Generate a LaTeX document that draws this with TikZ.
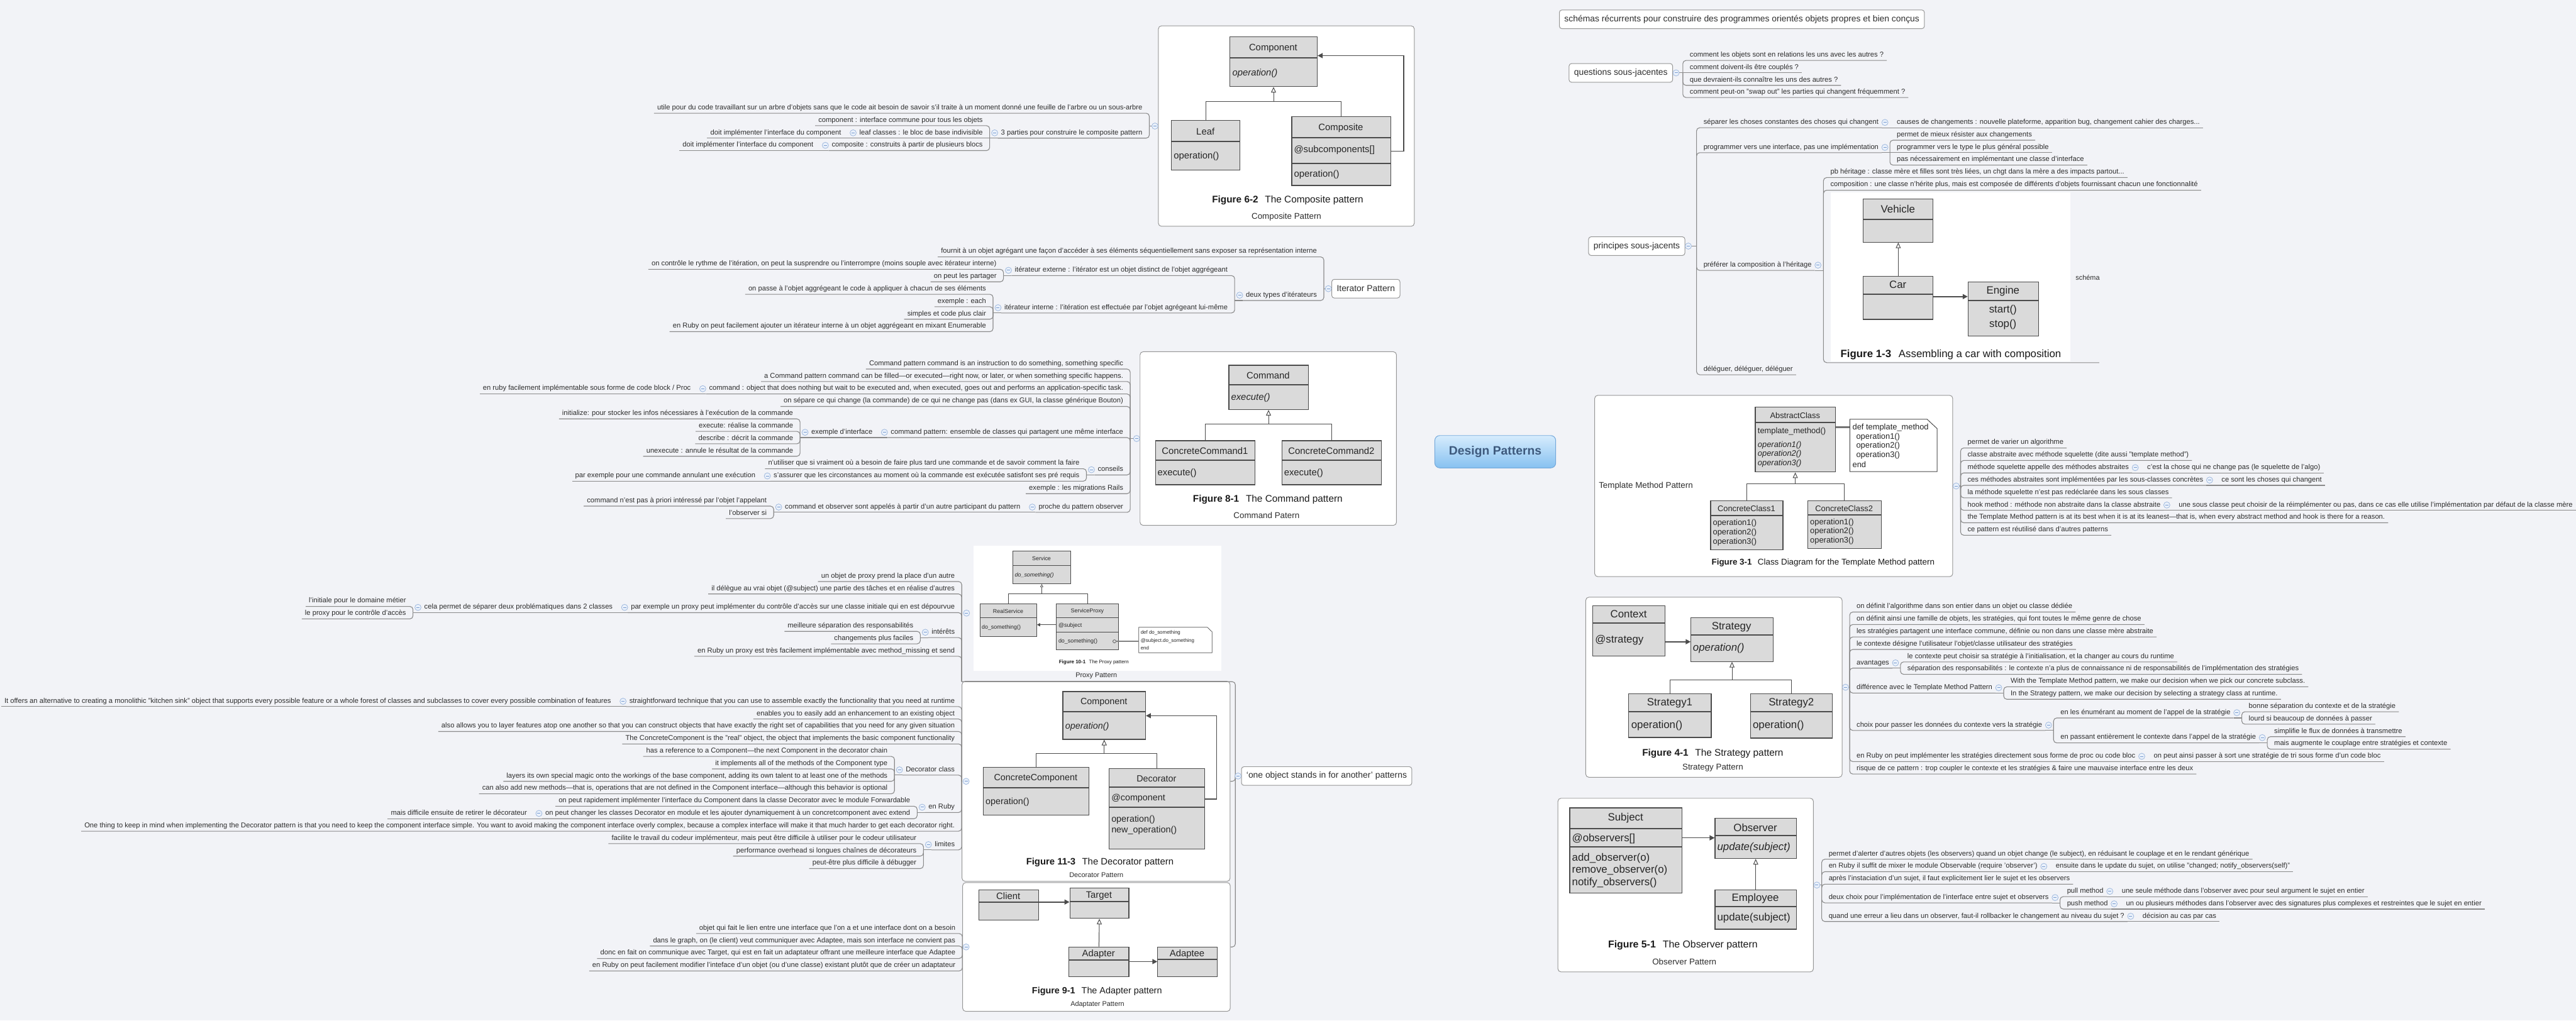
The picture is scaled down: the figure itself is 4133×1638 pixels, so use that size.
\documentclass[tikz,border=0pt]{standalone}
\usepackage{fontspec}
\setmainfont{Liberation Sans}
\usetikzlibrary{calc,arrows.meta}
\pgfdeclarelayer{back}
\pgfsetlayers{back,main}
\definecolor{bgc}{RGB}{242,243,247}
\definecolor{ln}{RGB}{138,138,138}
\definecolor{tx}{RGB}{45,45,45}
\definecolor{frm}{RGB}{150,150,150}
\definecolor{umlf}{RGB}{218,218,218}
\definecolor{umld}{RGB}{75,75,75}
\definecolor{foldb}{RGB}{160,185,222}
\definecolor{foldf}{RGB}{234,241,251}
\definecolor{foldm}{RGB}{120,155,208}
\definecolor{dpt}{RGB}{62,90,125}
\definecolor{dptop}{RGB}{214,236,253}
\definecolor{dpbot}{RGB}{135,193,240}
\definecolor{dpb}{RGB}{115,168,218}
\newcommand\fs[1]{\fontsize{#1}{#1}\selectfont}
\newcommand\UT[3]{\node[umlt] at (#1,#2) {#3};}
\newcommand\UL[3]{\node[umlt,anchor=west] at (#1,#2) {#3};}
\newcommand\stem[2]{\draw[conn] (#1) -- (#1 -| #2);}
\newcommand\kR[2]{\draw[conn] (#1 -| #2.south west) [rounded corners=5pt] |- (#2.south east);}
\newcommand\kL[2]{\draw[conn] (#1 -| #2.south east) [rounded corners=5pt] |- (#2.south west);}
\newcommand\kRs[2]{\draw[conn] (#1 -| #2.south west) -- (#2.south east);}
\newcommand\kLs[2]{\draw[conn] (#1 -| #2.south east) -- (#2.south west);}
\newcommand\sR[2]{\draw[conn] (#1.south east) -- (#2.south east);}
\newcommand\sL[2]{\draw[conn] (#1.south west) -- (#2.south west);}
\newcommand\fR[1]{\node[fold] at ($(#1.east)+(5,0)$) {};}
\newcommand\fL[1]{\node[fold] at ($(#1.west)+(-5,0)$) {};}
\tikzset{
 conn/.style={draw=ln, line width=1.1pt},
 mainl/.style={draw=ln, line width=1pt},
 leaf/.style={font=\fs{11.3}, text=tx, inner xsep=5pt, inner ysep=3pt, text height=8pt, text depth=2.5pt},
 leafR/.style={leaf, anchor=south west, execute at begin node={\hspace*{6pt}}},
 leafL/.style={leaf, anchor=south east, execute at end node={\hspace*{6pt}}},
 topic/.style={draw=frm, fill=white, rounded corners=4pt, font=\fs{14}, text=tx, inner xsep=8pt, minimum height=30pt, line width=1pt},
 pframe/.style={draw=frm, fill=white, rounded corners=5pt, line width=1pt, inner sep=0pt, anchor=north west},
 fold/.style={circle, draw=foldb, fill=foldf, line width=0.8pt, minimum size=10pt, inner sep=0pt, path picture={\draw[foldm, line width=1pt] ([xshift=-2.5pt]path picture bounding box.center) -- ([xshift=2.5pt]path picture bounding box.center);}},
 umlb/.style={draw=umld, fill=umlf, line width=1.2pt, inner sep=0pt, anchor=north west},
 umldiv/.style={draw=umld, line width=2pt},
 umlt/.style={text=black!85, inner sep=0pt},
 uline/.style={draw=umld, line width=1pt},
 inh/.style={draw=umld, line width=1pt, -{Triangle[open, length=9pt, width=8pt]}},
 asc/.style={draw=umld, line width=1.6pt, -{Triangle[length=8pt, width=8pt]}},
 figcap/.style={text=black!90, inner sep=0pt},
 flab/.style={font=\fs{13.5}, text=tx, inner sep=0pt},
 slab/.style={font=\fs{11}, text=tx, inner sep=0pt},
 notebox/.style={draw=umld, fill=white, line width=1pt},
}
\begin{document}
\begin{tikzpicture}[x=1pt,y=-1pt]
\fill[bgc] (0,0) rectangle (4133,1638);
\useasboundingbox (0,0) rectangle (4133,1638);

% ================= central
\node[draw=dpb, line width=1pt, rounded corners=8pt, top color=dptop, bottom color=dpbot, minimum width=194pt, minimum height=52pt, font=\bfseries\fs{19.5}, text=dpt] (dp) at (2399,725) {Design Patterns};

% ================= RIGHT: schemas / questions
\node[topic] (sch) at (2794.7,31) {schémas récurrents pour construire des programmes orientés objets propres et bien conçus};
\node[topic] (q) at (2600.5,117) {questions sous-jacentes};
\node[leafR] (q1) at (2700,97) {comment les objets sont en relations les uns avec les autres ?};
\node[leafR] (q2) at (2700,117) {comment doivent-ils être couplés ?};
\node[leafR] (q3) at (2700,137) {que devraient-ils connaître les uns des autres ?};
\node[leafR] (q4) at (2700,156.5) {comment peut-on "swap out" les parties qui changent fréquemment ?};
\stem{q.east}{q1.south west}
\kR{q.east}{q1}\kRs{q.east}{q2}\kR{q.east}{q3}\kR{q.east}{q4}
\fR{q}

% ================= principes
\node[topic] (pr) at (2626,395) {principes sous-jacents};
\node[leafR] (p1) at (2722,205) {séparer les choses constantes des choses qui changent};
\node[leafR] (p1a) at ($(p1.south east)+(13,0)$) {causes de changements : nouvelle plateforme, apparition bug, changement cahier des charges...};
\node[leafR] (p2) at (2722,245) {programmer vers une interface, pas une implémentation};
\node[leafR] (p2a) at ($(p2.south east)+(13,-20)$) {permet de mieux résister aux changements};
\node[leafR] (p2b) at ($(p2.south east)+(13,0)$) {programmer vers le type le plus général possible};
\node[leafR] (p2c) at ($(p2.south east)+(13,20)$) {pas nécessairement en implémentant une classe d'interface};
\node[leafR] (p3) at (2722,434) {préférer la composition à l'héritage};
\node[leafR] (p3a) at (2925.6,285) {pb héritage : classe mère et filles sont très liées, un chgt dans la mère a des impacts partout...};
\node[leafR] (p3b) at (2925.6,305.3) {composition : une classe n'hérite plus, mais est composée de différents d'objets fournissant chacun une fonctionnalité};
\node[leafR] (p4) at (2722,601.5) {déléguer, déléguer, déléguer};
\coordinate (schL) at (2925.6,582);
\coordinate (schR) at (3368,582);
\stem{pr.east}{p1.south west}
\kR{pr.east}{p1}\kR{pr.east}{p2}\kR{pr.east}{p3}\kR{pr.east}{p4}
\sR{p1}{p1a}
\stem{p2.south east}{p2a.south west}
\kR{p2.south east}{p2a}\kRs{p2.south east}{p2b}\kR{p2.south east}{p2c}
\stem{p3.south east}{p3a.south west}
\kR{p3.south east}{p3a}\kR{p3.south east}{p3b}
\draw[conn] (p3.south east -| schL) [rounded corners=5pt] |- (schR);
\fR{pr}\fR{p1}\fR{p2}\fR{p3}
% image car
\fill[white] (2937,309) rectangle (3322,580);
\begin{scope}[umlt/.append style={font=\fs{17}}]
\node[umlb, minimum width=112pt, minimum height=69pt] (vV) at (2989,319) {};
\draw[umldiv] (2989,352) -- (3101,352);
\UT{3045}{335.5}{Vehicle}
\node[umlb, minimum width=112pt, minimum height=69pt] (vC) at (2989,443) {};
\draw[umldiv] (2989,472) -- (3101,472);
\UT{3045}{457}{Car}
\node[umlb, minimum width=113pt, minimum height=87pt] (vE) at (3157,452) {};
\draw[umldiv] (3157,482) -- (3270,482);
\UT{3213.5}{467}{Engine}
\UT{3213.5}{498}{start()}
\UT{3213.5}{521}{stop()}
\draw[inh] (vC.north) -- (vV.south);
\draw[asc] (vC.east |- 0,476) -- (vE.west |- 0,476);
\end{scope}
\node[figcap, font=\fs{17}] at (3130,569) {\textbf{Figure 1-3}\hspace{0.7em}Assembling a car with composition};
\node[slab, anchor=west] at (3330,446) {schéma};

% ================= Template
\node[pframe, minimum width=574.5pt, minimum height=291pt] (tm) at (2558,634) {};
\node[flab, anchor=west] at (2565,780) {Template Method Pattern};
\begin{scope}[umlt/.append style={font=\fs{13}}]
\node[umlb, minimum width=128.5pt, minimum height=104pt] (tmA) at (2815.5,653) {};
\draw[umldiv] (2815.5,678) -- (2944,678);
\UT{2880}{667}{AbstractClass}
\UL{2820}{692}{template\_method()}
\UL{2820}{715}{\itshape operation1()}
\UL{2820}{729}{\itshape operation2()}
\UL{2820}{744}{\itshape operation3()}
\draw[notebox] (2968,673) -- (3092,673) -- (3108,688) -- (3108,757) -- (2968,757) -- cycle;
\draw[draw=black!55, line width=3pt] (tmA.east |- 0,686) -- (2968,686);
\UL{2972}{686}{def template\_method}
\UL{2978}{701}{operation1()}
\UL{2978}{716}{operation2()}
\UL{2978}{731}{operation3()}
\UL{2972}{746}{end}
\node[umlb, minimum width=116pt, minimum height=79pt] (tmC1) at (2744,803) {};
\draw[umldiv] (2744,827) -- (2860,827);
\UT{2802}{816}{ConcreteClass1}
\UL{2748}{840}{operation1()}
\UL{2748}{855}{operation2()}
\UL{2748}{870}{operation3()}
\node[umlb, minimum width=117.5pt, minimum height=77pt] (tmC2) at (2900,803) {};
\draw[umldiv] (2900,826) -- (3017.5,826);
\UT{2958.7}{816}{ConcreteClass2}
\UL{2904}{839}{operation1()}
\UL{2904}{853}{operation2()}
\UL{2904}{868}{operation3()}
\draw[uline] (tmC1.north) -- (tmC1.north |- 0,776) -- (tmC2.north |- 0,776) -- (tmC2.north);
\draw[inh] (tmA.south |- 0,776) -- (tmA.south);
\end{scope}
\node[figcap, font=\fs{13.5}] at (2925,903) {\textbf{Figure 3-1}\hspace{0.7em}Class Diagram for the Template Method pattern};
\foreach \n/\y/\t in {t1/719/{permet de varier un algorithme},
 t2/739/{classe abstraite avec méthode squelette (dite aussi "template method")},
 t3/759/{méthode squelette appelle des méthodes abstraites},
 t4/779/{ces méthodes abstraites sont implémentées par les sous-classes concrètes},
 t5/799/{la méthode squelette n'est pas redéclarée dans les sous classes},
 t6/819/{hook method : méthode non abstraite dans la classe abstraite},
 t7/839/{the Template Method pattern is at its best when it is at its leanest—that is, when every abstract method and hook is there for a reason.},
 t8/859/{ce pattern est réutilisé dans d'autres patterns}}
 {\node[leafR] (\n) at (3145.6,\y) {\t};}
\node[leafR] (t3a) at ($(t3.south east)+(13,0)$) {c'est la chose qui ne change pas (le squelette de l'algo)};
\node[leafR] (t4a) at ($(t4.south east)+(13,0)$) {ce sont les choses qui changent};
\node[leafR] (t6a) at ($(t6.south east)+(13,0)$) {une sous classe peut choisir de la réimplémenter ou pas, dans ce cas elle utilise l'implémentation par défaut de la classe mère};
\stem{tm.east}{t1.south west}
\kR{tm.east}{t1}\kR{tm.east}{t2}\kR{tm.east}{t3}\kR{tm.east}{t4}\kR{tm.east}{t5}\kR{tm.east}{t6}\kR{tm.east}{t7}\kR{tm.east}{t8}
\sR{t3}{t3a}\sR{t4}{t4a}\sR{t6}{t6a}
\fR{tm}\fR{t3}\fR{t4}\fR{t6}

% ================= Strategy
\node[pframe, minimum width=411.3pt, minimum height=289pt] (st) at (2543.7,958) {};
\node[flab] at (2748,1232) {Strategy Pattern};
\begin{scope}[umlt/.append style={font=\fs{17}}]
\node[umlb, minimum width=116pt, minimum height=80pt] (stX) at (2555,972) {};
\draw[umldiv] (2555,1000) -- (2671,1000);
\UT{2613}{986}{Context}
\UL{2559}{1027}{@strategy}
\node[umlb, minimum width=131.5pt, minimum height=70pt] (stS) at (2712.5,991) {};
\draw[umldiv] (2712.5,1019) -- (2844,1019);
\UT{2778}{1006}{Strategy}
\UL{2716}{1040}{\itshape operation()}
\node[umlb, minimum width=132.5pt, minimum height=70pt] (stS1) at (2612.5,1113) {};
\draw[umldiv] (2612.5,1142) -- (2745,1142);
\UT{2679}{1128}{Strategy1}
\UL{2617}{1165}{operation()}
\node[umlb, minimum width=131.5pt, minimum height=71pt] (stS2) at (2808,1113) {};
\draw[umldiv] (2808,1142) -- (2939.5,1142);
\UT{2874}{1128}{Strategy2}
\UL{2812}{1165}{operation()}
\draw[asc] (stX.east |- 0,1030) -- (stS.west |- 0,1030);
\draw[uline] (stS1.north) -- (stS1.north |- 0,1091) -- (stS2.north |- 0,1091) -- (stS2.north);
\draw[inh] (stS.south |- 0,1091) -- (stS.south);
\end{scope}
\node[figcap, font=\fs{15.5}] at (2748,1209) {\textbf{Figure 4-1}\hspace{0.7em}The Strategy pattern};
\foreach \n/\y/\t in {s1/982.3/{on définit l'algorithme dans son entier dans un objet ou classe dédiée},
 s2/1002.3/{on définit ainsi une famille de objets, les stratégies, qui font toutes le même genre de chose},
 s3/1022.3/{les stratégies partagent une interface commune, définie ou non dans une classe mère abstraite},
 s4/1042.3/{le contexte désigne l'utilisateur l'objet/classe utilisateur des stratégies},
 s5/1072.3/{avantages},
 s6/1112.3/{différence avec le Template Method Pattern},
 s7/1172.3/{choix pour passer les données du contexte vers la stratégie},
 s8/1222.3/{en Ruby on peut implémenter les stratégies directement sous forme de proc ou code bloc},
 s9/1242.3/{risque de ce pattern : trop coupler le contexte et les stratégies \& faire une mauvaise interface entre les deux}}
 {\node[leafR] (\n) at (2967.6,\y) {\t};}
\node[leafR] (s5a) at ($(s5.south east)+(13,-10)$) {le contexte peut choisir sa stratégie à l'initialisation, et la changer au cours du runtime};
\node[leafR] (s5b) at ($(s5.south east)+(13,10)$) {séparation des responsabilités : le contexte n'a plus de connaissance ni de responsabilités de l'implémentation des stratégies};
\node[leafR] (s6a) at ($(s6.south east)+(13,-10)$) {With the Template Method pattern, we make our decision when we pick our concrete subclass.};
\node[leafR] (s6b) at ($(s6.south east)+(13,10)$) {In the Strategy pattern, we make our decision by selecting a strategy class at runtime.};
\node[leafR] (s7a) at ($(s7.south east)+(13,-20)$) {en les énumérant au moment de l'appel de la stratégie};
\node[leafR] (s7b) at ($(s7.south east)+(13,20)$) {en passant entièrement le contexte dans l'appel de la stratégie};
\node[leafR] (s7a1) at ($(s7a.south east)+(13,-10)$) {bonne séparation du contexte et de la stratégie};
\node[leafR] (s7a2) at ($(s7a.south east)+(13,10)$) {lourd si beaucoup de données à passer};
\node[leafR] (s7b1) at ($(s7b.south east)+(13,-10)$) {simplifie le flux de données à transmettre};
\node[leafR] (s7b2) at ($(s7b.south east)+(13,10)$) {mais augmente le couplage entre stratégies et contexte};
\node[leafR] (s8a) at ($(s8.south east)+(13,0)$) {on peut ainsi passer à sort une stratégie de tri sous forme d'un code bloc};
\stem{st.east}{s1.south west}
\foreach \n in {s1,s2,s3,s4,s5,s6,s7,s8,s9}{\kR{st.east}{\n}}
\stem{s5.south east}{s5a.south west}\kR{s5.south east}{s5a}\kR{s5.south east}{s5b}
\stem{s6.south east}{s6a.south west}\kR{s6.south east}{s6a}\kR{s6.south east}{s6b}
\stem{s7.south east}{s7a.south west}\kR{s7.south east}{s7a}\kR{s7.south east}{s7b}
\stem{s7a.south east}{s7a1.south west}\kR{s7a.south east}{s7a1}\kR{s7a.south east}{s7a2}
\stem{s7b.south east}{s7b1.south west}\kR{s7b.south east}{s7b1}\kR{s7b.south east}{s7b2}
\sR{s8}{s8a}
\fR{st}\fR{s5}\fR{s6}\fR{s7}\fR{s7a}\fR{s7b}\fR{s8}

% ================= Observer
\node[pframe, minimum width=410pt, minimum height=278.6pt] (ob) at (2499,1280.7) {};
\node[flab] at (2702.4,1544) {Observer Pattern};
\begin{scope}[umlt/.append style={font=\fs{17}}]
\node[umlb, minimum width=180pt, minimum height=136.7pt] (obS) at (2518,1296) {};
\draw[umldiv] (2518,1330) -- (2698,1330);
\draw[umldiv] (2518,1359) -- (2698,1359);
\UT{2608}{1312.7}{Subject}
\UL{2522}{1346}{@observers[]}
\UL{2522}{1377}{add\_observer(o)}
\UL{2522}{1397}{remove\_observer(o)}
\UL{2522}{1417}{notify\_observers()}
\node[umlb, minimum width=130.6pt, minimum height=64.6pt] (obO) at (2751,1312.7) {};
\draw[umldiv] (2751,1340.7) -- (2881.6,1340.7);
\UT{2816.3}{1328}{Observer}
\UL{2755}{1360}{\itshape update(subject)}
\node[umlb, minimum width=130.6pt, minimum height=63.4pt] (obE) at (2751,1427.3) {};
\draw[umldiv] (2751,1455) -- (2881.6,1455);
\UT{2816.3}{1441.7}{Employee}
\UL{2755}{1473}{update(subject)}
\draw[asc] (obS.east |- 0,1344.7) -- (obO.west |- 0,1344.7);
\draw[inh] (obE.north) -- (obO.south);
\end{scope}
\node[figcap, font=\fs{16}] at (2700,1517.3) {\textbf{Figure 5-1}\hspace{0.7em}The Observer pattern};
\foreach \n/\y/\t in {o1/1379/{permet d'alerter d'autres objets (les observers) quand un objet change (le subject), en réduisant le couplage et en le rendant générique},
 o2/1399/{en Ruby il suffit de mixer le module Observable (require 'observer')},
 o3/1419/{après l'instaciation d'un sujet, il faut explicitement lier le sujet et les observers},
 o4/1449/{deux choix pour l'implémentation de l'interface entre sujet et observers},
 o5/1479/{quand une erreur a lieu dans un observer, faut-il rollbacker le changement au niveau du sujet ?}}
 {\node[leafR] (\n) at (2922.8,\y) {\t};}
\node[leafR] (o2a) at ($(o2.south east)+(13,0)$) {ensuite dans le update du sujet, on utilise "changed; notify\_observers(self)"};
\node[leafR] (o4a) at ($(o4.south east)+(13,-10)$) {pull method};
\node[leafR] (o4b) at ($(o4.south east)+(13,10)$) {push method};
\node[leafR] (o4a1) at ($(o4a.south east)+(13,0)$) {une seule méthode dans l'observer avec pour seul argument le sujet en entier};
\node[leafR] (o4b1) at ($(o4b.south east)+(13,0)$) {un ou plusieurs méthodes dans l'observer avec des signatures plus complexes et restreintes que le sujet en entier};
\node[leafR] (o5a) at ($(o5.south east)+(13,0)$) {décision au cas par cas};
\stem{ob.east}{o1.south west}
\foreach \n in {o1,o2,o3,o4,o5}{\kR{ob.east}{\n}}
\sR{o2}{o2a}\sR{o4a}{o4a1}\sR{o4b}{o4b1}\sR{o5}{o5a}
\stem{o4.south east}{o4a.south west}\kR{o4.south east}{o4a}\kR{o4.south east}{o4b}
\fR{ob}\fR{o2}\fR{o4}\fR{o4a}\fR{o4b}\fR{o5}

% ================= LEFT: Composite
\node[pframe, minimum width=410.6pt, minimum height=321.7pt] (cp) at (1858,41) {};
\begin{scope}[umlt/.append style={font=\fs{15}}]
\node[umlb, minimum width=140.2pt, minimum height=80pt] (cpC) at (1972.6,58.3) {};
\draw[umldiv] (1972.6,93.3) -- (2112.8,93.3);
\UT{2042.7}{77.3}{Component}
\UL{1977}{117.3}{\itshape operation()}
\node[umlb, minimum width=110pt, minimum height=80pt] (cpL) at (1879,192.3) {};
\draw[umldiv] (1879,227.3) -- (1989,227.3);
\UT{1934}{211}{Leaf}
\UL{1883}{251}{operation()}
\node[umlb, minimum width=158.5pt, minimum height=110.3pt] (cpK) at (2072,186.7) {};
\draw[umldiv] (2072,221.3) -- (2230.5,221.3);
\draw[umldiv] (2072,262.3) -- (2230.5,262.3);
\UT{2151.2}{205}{Composite}
\UL{2076}{241}{@subcomponents[]}
\UL{2076}{280}{operation()}
\draw[uline] (cpL.north) -- (cpL.north |- 0,162.7) -- (cpK.north |- 0,162.7) -- (cpK.north);
\draw[inh] (cpC.south |- 0,162.7) -- (cpC.south);
\draw[asc] (cpK.east |- 0,242.7) -- (2252,242.7) -- (2252,89.3) -- (cpC.east |- 0,89.3);
\end{scope}
\node[figcap, font=\fs{15.5}] at (2066,321) {\textbf{Figure 6-2}\hspace{0.7em}The Composite pattern};
\node[flab] at (2064,347.7) {Composite Pattern};
\node[leafL] (c1) at (1844,181.7) {utile pour du code travaillant sur un arbre d'objets sans que le code ait besoin de savoir s'il traite à un moment donné une feuille de l'arbre ou un sous-arbre};
\node[leafL] (c2) at (1844,221.7) {3 parties pour construire le composite pattern};
\node[leafL] (c2a) at ($(c2.south west)+(-13,-20)$) {component : interface commune pour tous les objets};
\node[leafL] (c2b) at ($(c2.south west)+(-13,0)$) {leaf classes : le bloc de base indivisible};
\node[leafL] (c2c) at ($(c2.south west)+(-13,20)$) {composite : construits à partir de plusieurs blocs};
\node[leafL] (c2b1) at ($(c2b.south west)+(-13,0)$) {doit implémenter l'interface du component};
\node[leafL] (c2c1) at ($(c2c.south west)+(-13,0)$) {doit implémenter l'interface du component};
\stem{cp.west}{c1.south east}\kL{cp.west}{c1}\kL{cp.west}{c2}
\stem{c2.south west}{c2a.south east}\kL{c2.south west}{c2a}\kLs{c2.south west}{c2b}\kL{c2.south west}{c2c}
\sL{c2b}{c2b1}\sL{c2c}{c2c1}
\fL{cp}\fL{c2}\fL{c2b}\fL{c2c}

% ================= Iterator
\node[topic] (it) at (2191.4,463.3) {Iterator Pattern};
\node[leafL] (i1) at (2124,412.3) {fournit à un objet agrégant une façon d'accéder à ses éléments séquentiellement sans exposer sa représentation interne};
\node[leafL] (i2) at (2124,482.3) {deux types d'itérateurs};
\node[leafL] (i2a) at ($(i2.south west)+(-13,-40)$) {itérateur externe : l'itérator est un objet distinct de l'objet aggrégeant};
\node[leafL] (i2b) at ($(i2.south west)+(-13,20)$) {itérateur interne : l'itération est effectuée par l'objet agrégeant lui-même};
\node[leafL] (i2a1) at ($(i2a.south west)+(-13,-10)$) {on contrôle le rythme de l'itération, on peut la susprendre ou l'interrompre (moins souple avec itérateur interne)};
\node[leafL] (i2a2) at ($(i2a.south west)+(-13,10)$) {on peut les partager};
\node[leafL] (i2b1) at ($(i2b.south west)+(-13,-30)$) {on passe à l'objet aggrégeant le code à appliquer à chacun de ses éléments};
\node[leafL] (i2b2) at ($(i2b.south west)+(-13,-10)$) {exemple : each};
\node[leafL] (i2b3) at ($(i2b.south west)+(-13,10)$) {simples et code plus clair};
\node[leafL] (i2b4) at ($(i2b.south west)+(-13,30)$) {en Ruby on peut facilement ajouter un itérateur interne à un objet aggrégeant en mixant Enumerable};
\stem{it.west}{i1.south east}\kL{it.west}{i1}\kL{it.west}{i2}
\stem{i2.south west}{i2a.south east}\kL{i2.south west}{i2a}\kL{i2.south west}{i2b}
\stem{i2a.south west}{i2a1.south east}\kL{i2a.south west}{i2a1}\kL{i2a.south west}{i2a2}
\stem{i2b.south west}{i2b1.south east}\kL{i2b.south west}{i2b1}\kL{i2b.south west}{i2b2}\kL{i2b.south west}{i2b3}\kL{i2b.south west}{i2b4}
\fL{it}\fL{i2}\fL{i2a}\fL{i2b}

% ================= Command
\node[pframe, minimum width=411.4pt, minimum height=278.7pt] (cm) at (1828.6,564) {};
\begin{scope}[umlt/.append style={font=\fs{15}}]
\node[umlb, minimum width=127.3pt, minimum height=71pt] (cmA) at (1971,585.7) {};
\draw[umldiv] (1971,617.3) -- (2098.3,617.3);
\UT{2034.6}{602.3}{Command}
\UL{1975}{638.3}{\itshape execute()}
\node[umlb, minimum width=159.6pt, minimum height=70.6pt] (cmC1) at (1853.4,706.7) {};
\draw[umldiv] (1853.4,738.3) -- (2013,738.3);
\UT{1933.2}{723.3}{ConcreteCommand1}
\UL{1857}{759.3}{execute()}
\node[umlb, minimum width=160pt, minimum height=70.6pt] (cmC2) at (2056,706.7) {};
\draw[umldiv] (2056,738.3) -- (2216,738.3);
\UT{2136}{723.3}{ConcreteCommand2}
\UL{2060}{759.3}{execute()}
\draw[uline] (cmC1.north) -- (cmC1.north |- 0,680.7) -- (cmC2.north |- 0,680.7) -- (cmC2.north);
\draw[inh] (cmA.south |- 0,680.7) -- (cmA.south);
\end{scope}
\node[figcap, font=\fs{15.5}] at (2034,801.7) {\textbf{Figure 8-1}\hspace{0.7em}The Command pattern};
\node[flab] at (2032,826.7) {Command Patern};
\foreach \n/\y/\t in {m1/592.3/{Command pattern command is an instruction to do something, something specific},
 m2/612.3/{a Command pattern command can be filled—or executed—right now, or later, or when something specific happens.},
 m3/632.3/{command : object that does nothing but wait to be executed and, when executed, goes out and performs an application-specific task.},
 m4/652.3/{on sépare ce qui change (la commande) de ce qui ne change pas (dans ex GUI, la classe générique Bouton)},
 m5/702.3/{command pattern: ensemble de classes qui partagent une même interface},
 m6/762.3/{conseils},
 m7/792.3/{exemple : les migrations Rails},
 m8/822.3/{proche du pattern observer}}
 {\node[leafL] (\n) at (1813.3,\y) {\t};}
\node[leafL] (m3a) at ($(m3.south west)+(-13,0)$) {en ruby facilement implémentable sous forme de code block / Proc};
\node[leafL] (m5a) at ($(m5.south west)+(-13,0)$) {exemple d'interface};
\node[leafL] (m5a1) at ($(m5a.south west)+(-13,-30)$) {initialize: pour stocker les infos nécessiares à l'exécution de la commande};
\node[leafL] (m5a2) at ($(m5a.south west)+(-13,-10)$) {execute: réalise la commande};
\node[leafL] (m5a3) at ($(m5a.south west)+(-13,10)$) {describe : décrit la commande};
\node[leafL] (m5a4) at ($(m5a.south west)+(-13,30)$) {unexecute : annule le résultat de la commande};
\node[leafL] (m6a) at ($(m6.south west)+(-13,-10)$) {n'utiliser que si vraiment où a besoin de faire plus tard une commande et de savoir comment la faire};
\node[leafL] (m6b) at ($(m6.south west)+(-13,10)$) {s'assurer que les circonstances au moment où la commande est exécutée satisfont ses pré requis};
\node[leafL] (m6b1) at ($(m6b.south west)+(-13,0)$) {par exemple pour une commande annulant une exécution};
\node[leafL] (m8a) at ($(m8.south west)+(-13,0)$) {command et observer sont appelés à partir d'un autre participant du pattern};
\node[leafL] (m8a1) at ($(m8a.south west)+(-13,-10)$) {command n'est pas à priori intéressé par l'objet l'appelant};
\node[leafL] (m8a2) at ($(m8a.south west)+(-13,10)$) {l'observer si};
\stem{cm.west}{m1.south east}
\foreach \n in {m1,m2,m3,m4,m5,m6,m7,m8}{\kL{cm.west}{\n}}
\sL{m3}{m3a}\sL{m5}{m5a}\sL{m6b}{m6b1}\sL{m8}{m8a}
\stem{m5a.south west}{m5a1.south east}
\foreach \n in {m5a1,m5a2,m5a3,m5a4}{\kL{m5a.south west}{\n}}
\stem{m6.south west}{m6a.south east}\kL{m6.south west}{m6a}\kL{m6.south west}{m6b}
\stem{m8a.south west}{m8a1.south east}\kL{m8a.south west}{m8a1}\kL{m8a.south west}{m8a2}
\fL{cm}\fL{m3}\fL{m5}\fL{m5a}\fL{m6}\fL{m6b}\fL{m8}\fL{m8a}

% ================= one object stands in for another
\node[topic] (os) at (2128.5,1245.5) {`one object stands in for another' patterns};
\coordinate (pxE) at (1982,1094);
\coordinate (pxL) at (1543,1094);

% ---- Proxy
\fill[white] (1562,876) rectangle (1960,1076.7);
\begin{scope}[umlt/.append style={font=\fs{9}}, umlb/.append style={line width=0.7pt}, umldiv/.append style={line width=1.2pt}]
\node[umlb, minimum width=92pt, minimum height=52.4pt] (yS) at (1625,884.3) {};
\draw[umldiv] (1625,907.7) -- (1717,907.7);
\UT{1671}{896.7}{Service}
\UL{1628}{923.3}{\itshape do\_something()}
\node[umlb, minimum width=91pt, minimum height=52.4pt] (yR) at (1572,968.3) {};
\draw[umldiv] (1572,991.7) -- (1663,991.7);
\UT{1617.5}{981}{RealService}
\UL{1575}{1006.7}{do\_something()}
\node[umlb, minimum width=99.8pt, minimum height=74.4pt] (yP) at (1694.6,968.3) {};
\draw[umldiv] (1694.6,991) -- (1794.4,991);
\draw[umldiv] (1694.6,1014.3) -- (1794.4,1014.3);
\UT{1744.5}{981}{ServiceProxy}
\UL{1698}{1004}{@subject}
\UL{1698}{1029.3}{do\_something()}
\draw[uline, line width=0.7pt] (yR.north) -- (yR.north |- 0,953.3) -- (yP.north |- 0,953.3) -- (yP.north);
\draw[draw=umld, line width=0.7pt, -{Triangle[open, length=5pt, width=5pt]}] (yS.south |- 0,953.3) -- (yS.south);
\draw[draw=umld, line width=1pt, -{Triangle[length=5pt, width=5pt]}] (yP.west |- 0,1002.7) -- (yR.east |- 0,1002.7);
\draw[notebox, line width=0.7pt] (1827,1006.7) -- (1937,1006.7) -- (1944.6,1014) -- (1944.6,1047.7) -- (1827,1047.7) -- cycle;
\draw[draw=umld, line width=0.7pt] (1788,1029.3) circle (2.5pt);
\draw[draw=umld!70, line width=1.5pt] (1790.5,1029.3) -- (1827,1029.3);
\node[umlt, font=\fs{8}, anchor=west] at (1830,1016) {def do\_something};
\node[umlt, font=\fs{8}, anchor=west] at (1830,1028.5) {@subject.do\_something};
\node[umlt, font=\fs{8}, anchor=west] at (1830,1040) {end};
\end{scope}
\node[figcap, font=\fs{8}] at (1755,1063.3) {\textbf{Figure 10-1}\hspace{0.7em}The Proxy pattern};
\node[slab] at (1759,1084.3) {Proxy Pattern};
\foreach \n/\y/\t in {x1/933.3/{un objet de proxy prend la place d'un autre},
 x2/953.3/{il délègue au vrai objet (@subject) une partie des tâches et en réalise d'autres},
 x3/983.3/{par exemple un proxy peut implémenter du contrôle d'accès sur une classe initiale qui en est dépourvue},
 x4/1023.3/{intérêts},
 x5/1053.3/{en Ruby un proxy est très facilement implémentable avec method\_missing et send}}
 {\node[leafL] (\n) at (1543,\y) {\t};}
\node[leafL] (x3a) at ($(x3.south west)+(-13,0)$) {cela permet de séparer deux problématiques dans 2 classes};
\node[leafL] (x3a1) at ($(x3a.south west)+(-13,-10)$) {l'initiale pour le domaine métier};
\node[leafL] (x3a2) at ($(x3a.south west)+(-13,10)$) {le proxy pour le contrôle d'accès};
\node[leafL] (x4a) at ($(x4.south west)+(-13,-10)$) {meilleure séparation des responsabilités};
\node[leafL] (x4b) at ($(x4.south west)+(-13,10)$) {changements plus faciles};
\foreach \n in {x1,x2,x3,x4,x5}{\kL{pxL}{\n}}
\sL{x3}{x3a}
\stem{x3a.south west}{x3a1.south east}\kL{x3a.south west}{x3a1}\kL{x3a.south west}{x3a2}
\stem{x4.south west}{x4a.south east}\kL{x4.south west}{x4a}\kL{x4.south west}{x4b}
\fL{x3}\fL{x3a}\fL{x4}

% ---- Decorator
\node[pframe, minimum width=430pt, minimum height=321pt] (dc) at (1543,1093) {};
\node[slab] at (1759,1404) {Decorator Pattern};
\begin{scope}[umlt/.append style={font=\fs{14.5}}]
\node[umlb, minimum width=132.6pt, minimum height=76.7pt] (dcA) at (1704.7,1109.3) {};
\draw[umldiv] (1704.7,1142.7) -- (1837.3,1142.7);
\UT{1771}{1126.7}{Component}
\UL{1709}{1166}{\itshape operation()}
\node[umlb, minimum width=169.4pt, minimum height=76.6pt] (dcC) at (1577,1230.7) {};
\draw[umldiv] (1577,1264) -- (1746.4,1264);
\UT{1661.7}{1249}{ConcreteComponent}
\UL{1581}{1287.3}{operation()}
\node[umlb, minimum width=153pt, minimum height=129pt] (dcD) at (1779,1232.7) {};
\draw[umldiv] (1779,1263.3) -- (1932,1263.3);
\draw[umldiv] (1779,1296) -- (1932,1296);
\UT{1855.5}{1249.3}{Decorator}
\UL{1783}{1281}{@component}
\UL{1783}{1315.7}{operation()}
\UL{1783}{1332.3}{new\_operation()}
\draw[uline] (dcC.north) -- (dcC.north |- 0,1209) -- (dcD.north |- 0,1209) -- (dcD.north);
\draw[inh] (dcA.south |- 0,1209) -- (dcA.south);
\draw[asc] (dcD.east |- 0,1282.3) -- (1952,1282.3) -- (1952,1148.7) -- (dcA.east |- 0,1148.7);
\end{scope}
\node[figcap, font=\fs{15}] at (1764.7,1384) {\textbf{Figure 11-3}\hspace{0.7em}The Decorator pattern};
\foreach \n/\y/\t in {d1/1134/{straightforward technique that you can use to assemble exactly the functionality that you need at runtime},
 d2/1154/{enables you to easily add an enhancement to an existing object},
 d3/1174/{also allows you to layer features atop one another so that you can construct objects that have exactly the right set of capabilities that you need for any given situation},
 d4/1194/{The ConcreteComponent is the "real" object, the object that implements the basic component functionality},
 d5/1244/{Decorator class},
 d6/1304/{en Ruby},
 d7/1334/{One thing to keep in mind when implementing the Decorator pattern is that you need to keep the component interface simple. You want to avoid making the component interface overly complex, because a complex interface will make it that much harder to get each decorator right.},
 d8/1364/{limites}}
 {\node[leafL] (\n) at (1543,\y) {\t};}
\node[leafL] (d1a) at ($(d1.south west)+(-13,0)$) {It offers an alternative to creating a monolithic "kitchen sink" object that supports every possible feature or a whole forest of classes and subclasses to cover every possible combination of features};
\node[leafL] (d5a) at ($(d5.south west)+(-13,-30)$) {has a reference to a Component—the next Component in the decorator chain};
\node[leafL] (d5b) at ($(d5.south west)+(-13,-10)$) {it implements all of the methods of the Component type};
\node[leafL] (d5c) at ($(d5.south west)+(-13,10)$) {layers its own special magic onto the workings of the base component, adding its own talent to at least one of the methods};
\node[leafL] (d5d) at ($(d5.south west)+(-13,30)$) {can also add new methods—that is, operations that are not defined in the Component interface—although this behavior is optional};
\node[leafL] (d6a) at ($(d6.south west)+(-13,-10)$) {on peut rapidement implémenter l'interface du Component dans la classe Decorator avec le module Forwardable};
\node[leafL] (d6b) at ($(d6.south west)+(-13,10)$) {on peut changer les classes Decorator en module et les ajouter dynamiquement à un concretcomponent avec extend};
\node[leafL] (d6b1) at ($(d6b.south west)+(-13,0)$) {mais difficile ensuite de retirer le décorateur};
\node[leafL] (d8a) at ($(d8.south west)+(-13,-10)$) {facilite le travail du codeur implémenteur, mais peut être difficile à utiliser pour le codeur utilisateur};
\node[leafL] (d8b) at ($(d8.south west)+(-13,10)$) {performance overhead si longues chaînes de décorateurs};
\node[leafL] (d8c) at ($(d8.south west)+(-13,30)$) {peut-être plus difficile à débugger};
\stem{dc.west}{d1.south east}
\foreach \n in {d1,d2,d3,d4,d5,d6,d7,d8}{\kL{dc.west}{\n}}
\sL{d1}{d1a}\sL{d6b}{d6b1}
\stem{d5.south west}{d5a.south east}
\foreach \n in {d5a,d5b,d5c,d5d}{\kL{d5.south west}{\n}}
\stem{d6.south west}{d6a.south east}\kL{d6.south west}{d6a}\kL{d6.south west}{d6b}
\stem{d8.south west}{d8a.south east}\kL{d8.south west}{d8a}\kL{d8.south west}{d8b}\kL{d8.south west}{d8c}
\fL{d1}\fL{d5}\fL{d6}\fL{d6b}\fL{d8}

% ---- Adapter
\node[pframe, minimum width=429.3pt, minimum height=206.7pt] (ad) at (1544,1416) {};
\node[slab] at (1760.8,1612) {Adaptater Pattern};
\begin{scope}[umlt/.append style={font=\fs{15}}]
\node[umlb, minimum width=95.4pt, minimum height=48pt] (adC) at (1570,1427.7) {};
\draw[umldiv] (1570,1447.7) -- (1665.4,1447.7);
\UT{1617.7}{1438.3}{Client}
\node[umlb, minimum width=94.7pt, minimum height=48.3pt] (adT) at (1715.9,1425) {};
\draw[umldiv] (1715.9,1447.3) -- (1810.6,1447.3);
\UT{1763.2}{1437.3}{Target}
\node[umlb, minimum width=96.1pt, minimum height=48pt] (adA) at (1714.5,1519.3) {};
\draw[umldiv] (1714.5,1540.7) -- (1810.6,1540.7);
\UT{1762.5}{1531}{Adapter}
\node[umlb, minimum width=95.4pt, minimum height=48pt] (adE) at (1856.9,1519.3) {};
\draw[umldiv] (1856.9,1540) -- (1952.3,1540);
\UT{1904.6}{1531}{Adaptee}
\draw[asc] (adC.east |- 0,1447.7) -- (adT.west |- 0,1447.7);
\draw[inh] (adA.north) -- (adT.south);
\draw[asc] (adA.east |- 0,1543.3) -- (adE.west |- 0,1543.3);
\end{scope}
\node[figcap, font=\fs{14.5}] at (1760,1590.7) {\textbf{Figure 9-1}\hspace{0.7em}The Adapter pattern};
\foreach \n/\y/\t in {a1/1498.3/{objet qui fait le lien entre une interface que l'on a et une interface dont on a besoin},
 a2/1518.3/{dans le graph, on (le client) veut communiquer avec Adaptee, mais son interface ne convient pas},
 a3/1538.3/{donc en fait on communique avec Target, qui est en fait un adaptateur offrant une meilleure interface que Adaptee},
 a4/1558.3/{en Ruby on peut facilement modifier l'inteface d'un objet (ou d'une classe) existant plutôt que de créer un adaptateur}}
 {\node[leafL] (\n) at (1544,\y) {\t};}
\stem{ad.west}{a1.south east}
\foreach \n in {a1,a2,a3,a4}{\kL{ad.west}{\n}}

% ---- os connectors
\draw[conn] (os.west) -- (os.west -| pxE);
\draw[conn] (os.west -| pxE) [rounded corners=5pt] |- (pxL);
\draw[conn] (os.west -| pxE) [rounded corners=5pt] |- (dc.east);
\draw[conn] (os.west -| pxE) [rounded corners=5pt] |- (ad.east);
\fL{os}
\node[fold] at (1550.7,984) {};
\node[fold] at ($(dc.west)+(7,0)$) {};
\node[fold] at ($(ad.west)+(6,0)$) {};

% ================= main lines
\begin{pgfonlayer}{back}
\foreach \t in {sch.south west, q.west, pr.west, tm.west, st.west, ob.west, cp.east, it.east, cm.east, os.east}
 {\draw[mainl] (dp.center) -- (\t);}
\end{pgfonlayer}
\end{tikzpicture}
\end{document}
